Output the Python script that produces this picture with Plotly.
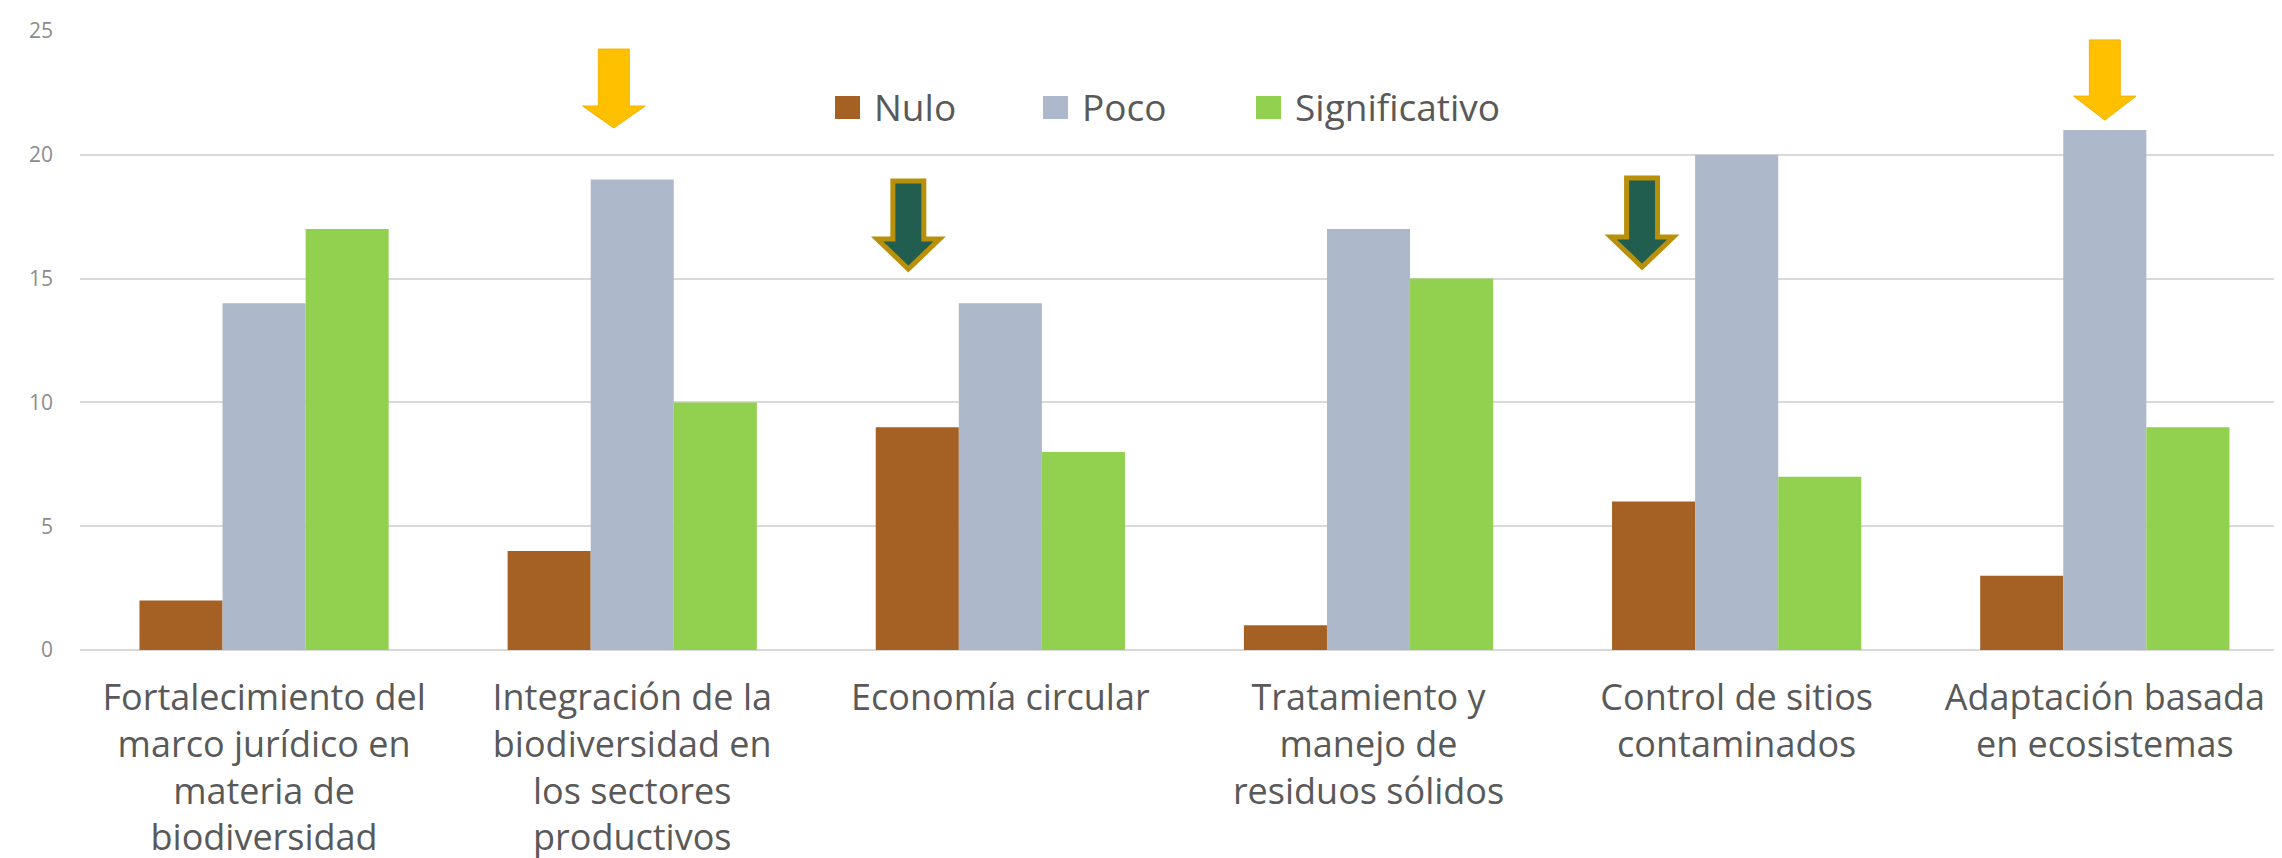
import plotly.graph_objects as go

categories = [
    "Fortalecimiento del<br>marco jurídico en<br>materia de<br>biodiversidad",
    "Integración de la<br>biodiversidad en<br>los sectores<br>productivos",
    "Economía circular",
    "Tratamiento y<br>manejo de<br>residuos sólidos",
    "Control de sitios<br>contaminados",
    "Adaptación basada<br>en ecosistemas",
]
nulo = [2, 4, 9, 1, 6, 3]
poco = [14, 19, 14, 17, 20, 21]
significativo = [17, 10, 8, 15, 7, 9]

series_names = ["Nulo", "Poco", "Significativo"]
series_values = [nulo, poco, significativo]
series_colors = ["#A46123", "#ADB8CA", "#92D050"]

# highlight arrows: (category index, x offset in category units, top, head base, tip, fill, outline)
arrows = [
    (1, -0.05, 24.27, 21.97, 21.08, "#FFC000", "#F2B200"),
    (5, 0.0, 24.64, 22.37, 21.40, "#FFC000", "#F2B200"),
    (2, -0.25, 18.94, 16.60, 15.39, "#215E50", "#B8900A"),
    (4, -0.257, 19.06, 16.68, 15.47, "#215E50", "#B8900A"),
]

W, H = 2282, 858
ML, MR, MT, MB = 72, 0, 23, 216
PW, PH = W - ML - MR, H - MT - MB

xs = list(range(len(categories)))

fig = go.Figure()
for name, vals, color in zip(series_names, series_values, series_colors):
    fig.add_trace(go.Bar(x=xs, y=vals, name=name, showlegend=False,
                         marker=dict(color=color, line=dict(width=0))))

shapes = []
for ci, off, top, base, tip, fill, edge in arrows:
    cx = ci + off
    sw, hw = 0.042, 0.085
    path = (f"M{cx-sw},{top} L{cx+sw},{top} L{cx+sw},{base} L{cx+hw},{base} "
            f"L{cx},{tip} L{cx-hw},{base} L{cx-sw},{base} Z")
    lw = 5 if edge == "#B8900A" else 1
    shapes.append(dict(type="path", path=path, xref="x", yref="y", fillcolor=fill,
                       line=dict(color=edge, width=lw), layer="above"))

# legend drawn as swatches + text (pixel positions converted to paper coords)
legend_swatch_left = [827, 1035, 1248]
legend_y = 99
annotations = []
for name, color, sx in zip(series_names, series_colors, legend_swatch_left):
    x0 = (sx - ML) / PW
    x1 = (sx + 25 - ML) / PW
    y0 = (MT + PH - (legend_y + 12)) / PH
    y1 = (MT + PH - (legend_y - 11)) / PH
    shapes.append(dict(type="rect", xref="paper", yref="paper", x0=x0, x1=x1, y0=y0, y1=y1,
                       fillcolor=color, line=dict(width=0)))
    annotations.append(dict(text=name, xref="paper", yref="paper",
                            x=(sx + 37 - ML) / PW, y=(MT + PH - legend_y) / PH,
                            xanchor="left", yanchor="middle", showarrow=False,
                            font=dict(size=37, color="#595959", family="Open Sans")))

fig.update_layout(
    width=W, height=H,
    margin=dict(l=ML, r=MR, t=MT, b=MB, autoexpand=False),
    paper_bgcolor="white", plot_bgcolor="white",
    barmode="group", bargap=0.323, bargroupgap=0,
    font=dict(family="Open Sans", color="#595959"),
    showlegend=False,
    shapes=shapes,
    annotations=annotations,
    xaxis=dict(range=[-0.5, 5.503], tickvals=xs, ticktext=categories,
               tickfont=dict(size=36, color="#595959", family="Open Sans"),
               showgrid=False, zeroline=False, showline=False, ticks="",
               ticklabelstandoff=23, automargin=False),
    yaxis=dict(range=[0, 25], dtick=5, showgrid=True, gridcolor="#D9D9D9", gridwidth=1.5,
               zeroline=True, zerolinecolor="#D9D9D9", zerolinewidth=1.5,
               showline=False, ticks="", ticklabelstandoff=26, automargin=False,
               tickfont=dict(size=21, color="#8C8C8C", family="Open Sans")),
)

fig.write_html("out.html")
